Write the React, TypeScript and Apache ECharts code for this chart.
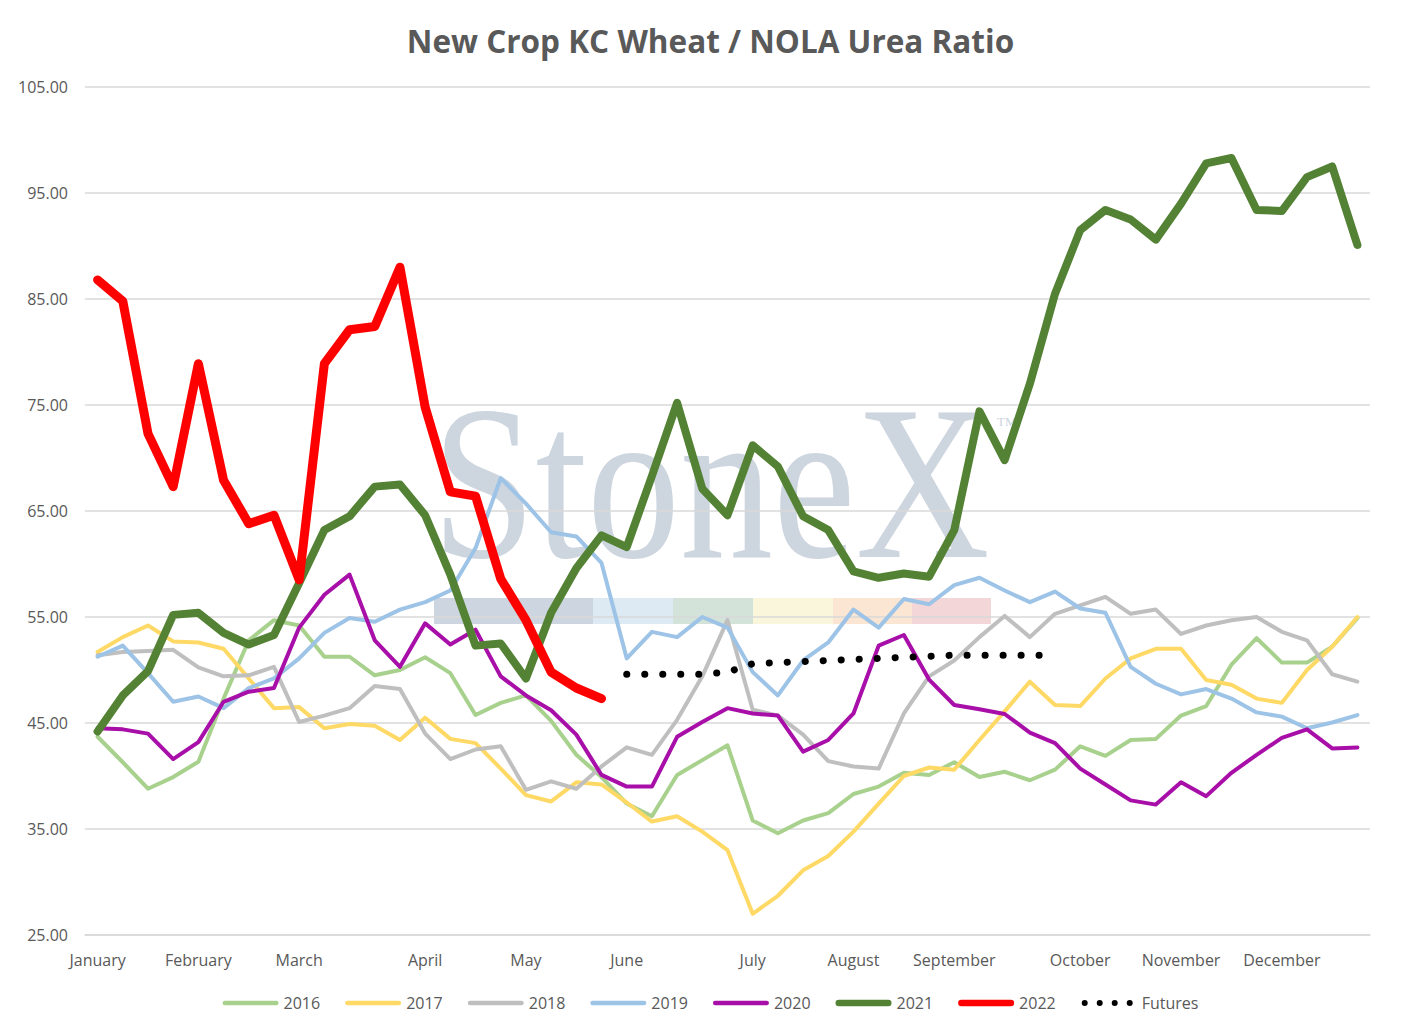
import React, { useEffect, useRef } from "react";
import * as echarts from "echarts";

const months = ["January", "February", "March", "April", "May", "June", "July", "August", "September", "October", "November", "December"];
const weeksPerMonth = [4, 4, 5, 4, 4, 5, 4, 4, 5, 4, 4, 4];

const yMin = 25;
const yMax = 105;
const yInterval = 10;

const s2016 = [43.7, 41.3, 38.8, 39.9, 41.35, 47.3, 52.8, 54.7, 54.2, 51.25, 51.25, 49.5, 50.0, 51.2, 49.7, 45.75, 46.9, 47.6, 45.2, 42.0, 39.9, 37.4, 36.2, 40.1, 41.5, 42.9, 35.8, 34.6, 35.8, 36.5, 38.3, 39.0, 40.3, 40.1, 41.3, 39.9, 40.4, 39.6, 40.6, 42.8, 41.9, 43.4, 43.5, 45.7, 46.6, 50.5, 53.0, 50.7, 50.7, 52.2, 54.9];
const s2017 = [51.7, 53.1, 54.2, 52.7, 52.6, 52.0, 49.2, 46.4, 46.5, 44.5, 44.9, 44.75, 43.4, 45.5, 43.5, 43.1, 40.7, 38.2, 37.6, 39.4, 39.2, 37.5, 35.7, 36.2, 34.75, 33.0, 27.0, 28.7, 31.1, 32.45, 34.75, 37.4, 40.0, 40.8, 40.6, 43.4, 46.1, 48.9, 46.7, 46.6, 49.2, 51.1, 52.0, 52.0, 49.05, 48.6, 47.3, 46.9, 50.0, 52.2, 55.0];
const s2018 = [51.4, 51.7, 51.8, 51.9, 50.25, 49.4, 49.5, 50.3, 45.1, 45.7, 46.4, 48.5, 48.2, 44.0, 41.6, 42.5, 42.8, 38.7, 39.5, 38.8, 40.9, 42.7, 42.0, 45.3, 49.4, 54.7, 46.25, 45.7, 43.9, 41.4, 40.9, 40.7, 45.9, 49.4, 50.9, 53.1, 55.1, 53.1, 55.3, 56.1, 56.9, 55.3, 55.7, 53.4, 54.2, 54.7, 55.0, 53.6, 52.8, 49.6, 48.9];
const s2019 = [51.25, 52.3, 49.7, 47.0, 47.5, 46.4, 48.3, 49.2, 51.1, 53.5, 54.9, 54.55, 55.7, 56.4, 57.5, 61.5, 68.1, 65.7, 63.0, 62.6, 60.1, 51.1, 53.6, 53.1, 55.0, 54.0, 49.8, 47.6, 50.9, 52.6, 55.7, 54.0, 56.7, 56.2, 58.0, 58.7, 57.5, 56.4, 57.4, 55.8, 55.4, 50.3, 48.7, 47.7, 48.2, 47.3, 46.0, 45.6, 44.5, 45.05, 45.75];
const s2020 = [44.5, 44.4, 44.0, 41.6, 43.2, 47.0, 47.95, 48.3, 54.0, 57.1, 59.0, 52.8, 50.3, 54.4, 52.4, 53.8, 49.4, 47.6, 46.2, 43.9, 40.1, 39.0, 39.0, 43.7, 45.1, 46.4, 45.9, 45.7, 42.3, 43.4, 45.9, 52.3, 53.3, 49.1, 46.7, 46.3, 45.85, 44.1, 43.1, 40.7, 39.2, 37.7, 37.3, 39.4, 38.1, 40.3, 42.0, 43.6, 44.4, 42.6, 42.7];
const s2021 = [44.2, 47.6, 49.9, 55.2, 55.4, 53.5, 52.4, 53.3, 58.2, 63.2, 64.5, 67.3, 67.5, 64.6, 59.0, 52.3, 52.5, 49.2, 55.4, 59.6, 62.7, 61.6, 68.3, 75.2, 67.1, 64.6, 71.2, 69.2, 64.5, 63.2, 59.3, 58.7, 59.1, 58.8, 63.2, 74.4, 69.8, 77.0, 85.5, 91.5, 93.4, 92.5, 90.6, 94.0, 97.8, 98.3, 93.4, 93.3, 96.5, 97.5, 90.1];
const s2022 = [86.8, 84.8, 72.3, 67.3, 78.9, 67.9, 63.8, 64.6, 58.5, 78.9, 82.1, 82.4, 88.0, 74.8, 66.8, 66.4, 58.6, 54.7, 49.8, 48.3, 47.3];
const futuresStartWeek = 21;
const futuresValues = [49.6, 49.6, 49.6, 49.6, 49.8, 50.6, 50.7, 50.8, 50.9, 51.0, 51.1, 51.2, 51.3, 51.4, 51.4, 51.4, 51.4, 51.4];

const categories: string[] = [];
months.forEach((m, i) => {
  for (let w = 0; w < weeksPerMonth[i]; w++) categories.push(w === 0 ? m : "");
});

const futures: (number | null)[] = [];
for (let i = 0; i < futuresStartWeek; i++) futures.push(null);
futuresValues.forEach((v) => futures.push(v));

const FONT = "'Open Sans', 'Liberation Sans', sans-serif";
const TXT = "#595959";

// legend icons (56 x 7 box)
const thinIcon = "path://M0,0 M56,7 M2.25,1.25 L53.75,1.25 A2.25,2.25 0 0 1 53.75,5.75 L2.25,5.75 A2.25,2.25 0 0 1 2.25,1.25 Z";
const thickIcon = "path://M0,0 M56,7 M3.25,0.25 L52.75,0.25 A3.25,3.25 0 0 1 52.75,6.75 L3.25,6.75 A3.25,3.25 0 0 1 3.25,0.25 Z";
const dotIcon =
  "path://M0,0 M56,7 " +
  [4, 19, 34, 49]
    .map((c) => `M${c - 3},3.5 A3,3 0 1 1 ${c + 3},3.5 A3,3 0 1 1 ${c - 3},3.5 Z`)
    .join(" ");

function line(name: string, data: (number | null)[], color: string, width: number, extra: any = {}) {
  return {
    name,
    type: "line",
    data,
    symbol: "none",
    smooth: false,
    connectNulls: false,
    lineStyle: { color, width, join: "round", cap: "round", ...(extra.lineStyle || {}) },
    itemStyle: { color },
    emphasis: { disabled: true },
  };
}

export default function App() {
  const ref = useRef<HTMLDivElement>(null);
  useEffect(() => {
    if (!ref.current) return;
    const chart = echarts.init(ref.current, undefined, { renderer: "svg" });
    const barX = 434;
    const barY = 598;
    const barH = 26;
    const bars = [
      { x: barX, w: 159, c: "#CDD6E0" },
      { x: barX + 159, w: 80, c: "#DDEAF4" },
      { x: barX + 239, w: 80, c: "#D4E3DA" },
      { x: barX + 319, w: 80, c: "#FAF6DC" },
      { x: barX + 399, w: 79, c: "#FBE6D4" },
      { x: barX + 478, w: 79, c: "#F2D6D8" },
    ];
    chart.setOption({
      animation: false,
      backgroundColor: "#ffffff",
      title: {
        text: "New Crop KC Wheat / NOLA Urea Ratio",
        left: "center",
        top: 19,
        textStyle: { fontSize: 31.5, fontWeight: "bold", color: TXT, fontFamily: FONT },
      },
      graphic: [
        {
          type: "text",
          z: -10,
          x: 432,
          y: 483,
          scaleX: 0.845,
          style: {
            text: "StoneX",
            fontSize: 220,
            fontFamily: "'Liberation Serif', 'DejaVu Serif', serif",
            fill: "#CDD5DF",
            textVerticalAlign: "middle",
          },
        },
        {
          type: "text",
          z: -10,
          x: 997,
          y: 415,
          style: { text: "TM", fontSize: 13, fontFamily: "'Liberation Serif', serif", fill: "#CDD5DF" },
        },
        ...bars.map((b) => ({
          type: "rect",
          z: -10,
          shape: { x: b.x, y: barY, width: b.w, height: barH },
          style: { fill: b.c },
        })),
      ],
      legend: {
        bottom: 17,
        left: "center",
        itemWidth: 56,
        itemHeight: 7,
        itemGap: 25,
        itemStyle: { borderWidth: 0 },
        textStyle: { fontSize: 16, color: TXT, fontFamily: FONT },
        data: [
          { name: "2016", icon: thinIcon },
          { name: "2017", icon: thinIcon },
          { name: "2018", icon: thinIcon },
          { name: "2019", icon: thinIcon },
          { name: "2020", icon: thinIcon },
          { name: "2021", icon: thickIcon },
          { name: "2022", icon: thickIcon },
          { name: "Futures", icon: dotIcon },
        ],
      },
      grid: { left: 85, right: 51, top: 87, bottom: 98, containLabel: false },
      xAxis: {
        type: "category",
        data: categories,
        boundaryGap: true,
        axisLine: { show: true, lineStyle: { color: "#D9D9D9", width: 1.5 } },
        axisTick: { show: false },
        axisLabel: { interval: 0, fontSize: 16, color: TXT, fontFamily: FONT, margin: 17 },
        splitLine: { show: false },
      },
      yAxis: {
        type: "value",
        min: yMin,
        max: yMax,
        interval: yInterval,
        axisLine: { show: false },
        axisTick: { show: false },
        axisLabel: { fontSize: 16, color: TXT, fontFamily: FONT, margin: 17, formatter: (v: number) => v.toFixed(2) },
        splitLine: { lineStyle: { color: "#D9D9D9", width: 1.5 } },
      },
      series: [
        line("2016", s2016, "#A9D18E", 4),
        line("2017", s2017, "#FFD966", 4),
        line("2018", s2018, "#BFBFBF", 4),
        line("2019", s2019, "#9DC3E6", 4),
        line("2020", s2020, "#A80FA8", 4),
        line("2021", s2021, "#548235", 8),
        line("2022", s2022, "#FF0000", 9),
        line("Futures", futures, "#000000", 7, { lineStyle: { type: [0.1, 17.9], dashOffset: 0, cap: "round" } }),
      ],
    });
    return () => chart.dispose();
  }, []);
  return (
    <div
      style={{
        position: "absolute",
        left: 0,
        top: 0,
        width: 1421,
        height: 1033,
        boxSizing: "border-box",
        border: "1px solid #D9D9D9",
        background: "#fff",
      }}
    >
      <div ref={ref} style={{ position: "absolute", left: -1, top: -1, width: 1421, height: 1033 }} />
    </div>
  );
}
